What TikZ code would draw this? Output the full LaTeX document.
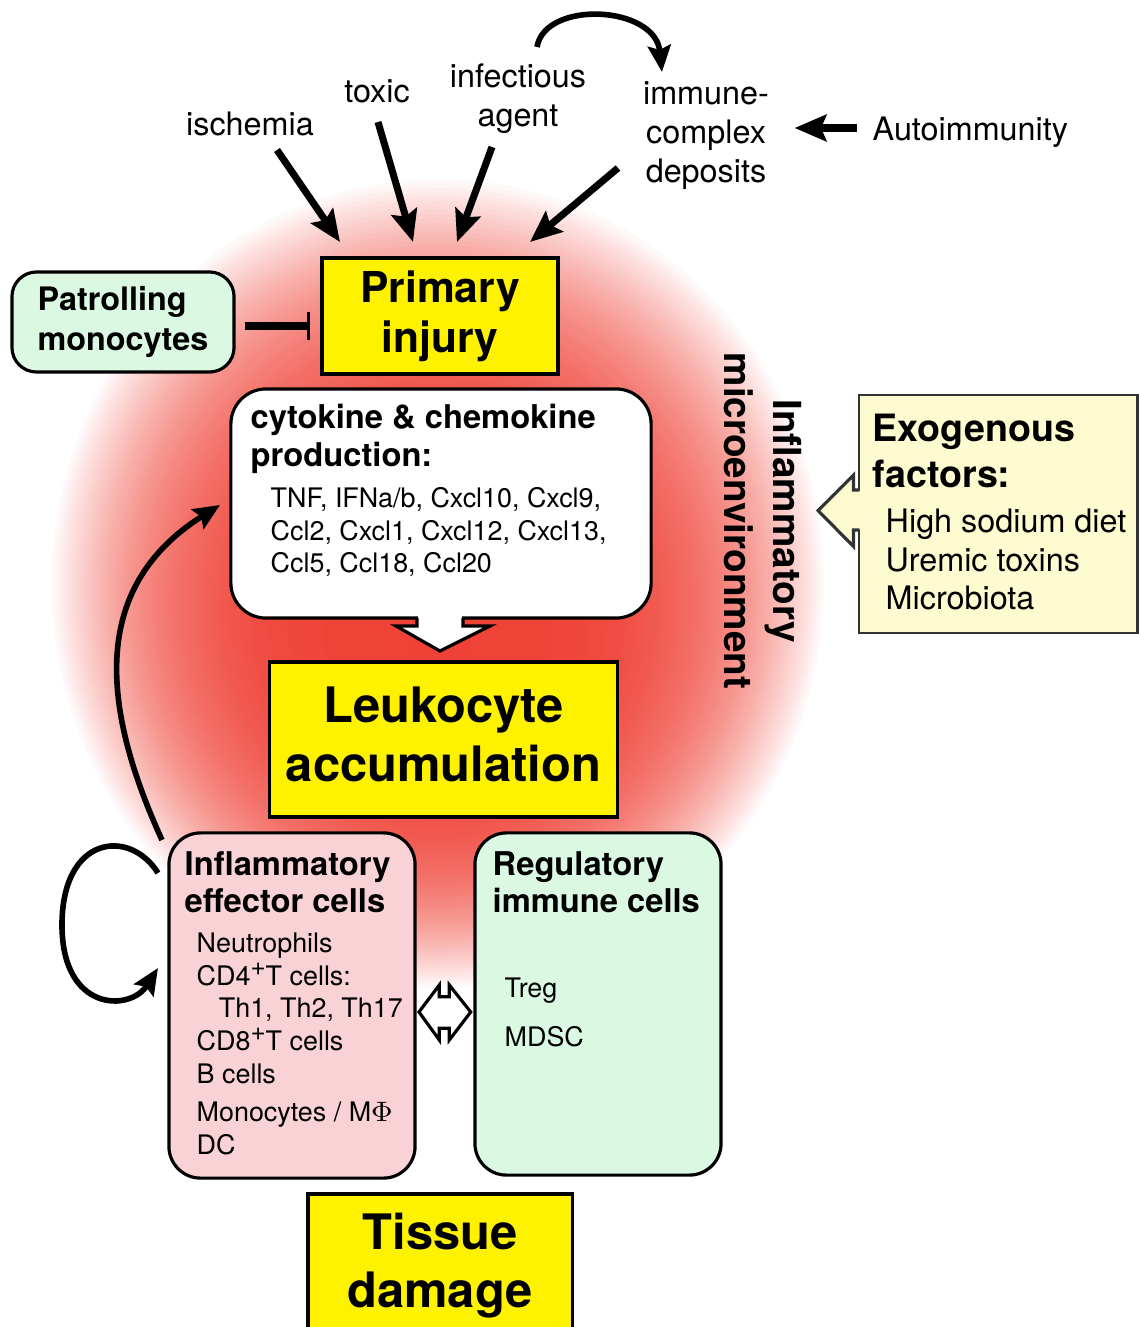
\documentclass[tikz,border=0pt]{standalone}
\usepackage{fontspec}
\setmainfont{TeX Gyre Heros}
\usetikzlibrary{arrows.meta}

\definecolor{injuryyellow}{HTML}{FFF200}
\definecolor{calmgreen}{HTML}{DBF8E3}
\definecolor{effectorpink}{HTML}{F8D2D4}
\definecolor{exoyellow}{HTML}{FEFBD0}
\definecolor{glowred}{HTML}{EF4136}

\newcommand{\plussup}{\raisebox{0.36em}{\fontsize{7.4}{7}\selectfont +}}

\tikzset{
  injurybox/.style={draw=black, fill=injuryyellow, line width=0.9pt, inner sep=0pt, align=center,
    font=\fontsize{12.1}{14.2}\selectfont\bfseries},
  leukobox/.style={injurybox, font=\fontsize{13.9}{16.5}\selectfont\bfseries},
  cellbox/.style={draw=black, line width=0.9pt, rounded corners=9pt, inner sep=0pt},
  titletext/.style={anchor=north west, inner sep=0pt, align=left, font=\fontsize{9.3}{10.6}\selectfont\bfseries},
  listtext/.style={anchor=north west, inner sep=0pt, align=left, font=\fontsize{7.65}{9.3}\selectfont},
  causetext/.style={inner sep=0pt, align=center, font=\fontsize{9.2}{11.1}\selectfont},
  hitarrow/.style={->, line width=2pt},
  curvearrow/.style={->, line width=1.6pt, >={Stealth[length=7.5pt,width=6.5pt,inset=1.2pt]}},
  inhibit/.style={-{Bar[width=8pt,line width=0.9pt]}, line width=2pt},
  blockarrow/.style={draw=black, line width=0.9pt, line join=miter}
}

\begin{document}
\begin{tikzpicture}
        [x=0.01cm, y=-0.01cm, >={Stealth[length=9pt,width=7.5pt,inset=1.5pt]}]
        \useasboundingbox (0,0) rectangle (1138,1327);

        \foreach \k in {0,...,99} {
            \pgfmathsetmacro{\f}{\k/99}
            \pgfmathtruncatemacro{\pct}{100*(1-(1-\f)^3.2)}
            \pgfmathsetmacro{\rx}{390*(1-0.92*\f)}
            \pgfmathsetmacro{\ry}{408*(1-0.92*\f)}
            \pgfmathsetmacro{\cy}{583+57*\f}
            \fill[glowred!\pct!white] (438,\cy) ellipse [x radius=\rx, y radius=\ry];
        }

        \node[causetext, anchor=base] (ischemia) at (250,135) {ischemia};
        \node[causetext, anchor=base] (toxic) at (377,102) {toxic};
        \node[causetext, anchor=north] (infectious) at (518,63.5) {infectious\\agent};
        \node[causetext, anchor=north] (immune) at (706,80.5) {immune-\\complex\\deposits};
        \node[causetext, anchor=base west] (autoimm) at (872,140) {Autoimmunity};

        \node[injurybox, minimum width=2.36cm, minimum height=1.16cm] (primary) at (440,316) {Primary\\injury};
        \node[cellbox, fill=calmgreen, minimum width=2.22cm, minimum height=1cm, rounded corners=7pt,
            align=left, font=\fontsize{9.2}{11.2}\selectfont\bfseries] (patrol) at (123,322) {Patrolling\\monocytes};

        \node[cellbox, fill=white, minimum width=4.2cm, minimum height=2.29cm, rounded corners=10pt] (cytokine) at (441,503.5) {};
        \node[titletext, font=\fontsize{9.3}{11}\selectfont\bfseries] (cytotitle) at (250,403) {cytokine \& chemokine\\production:};
        \node[listtext] (cytolist) at (270,486.5) {TNF, IFNa/b, Cxcl10, Cxcl9,\\Ccl2, Cxcl1, Cxcl12, Cxcl13,\\Ccl5, Ccl18, Ccl20};

        \node[leukobox, minimum width=3.47cm, minimum height=1.55cm] (leuko) at (443.5,739.5) {Leukocyte\\accumulation\vphantom{g}};

        \node[cellbox, fill=effectorpink, minimum width=2.46cm, minimum height=3.45cm] (effector) at (292,1005.5) {};
        \node[titletext] (efftitle) at (184,851) {Inflammatory\\effector cells};
        \node[listtext] (efflist) at (196,932) {Neutrophils\\CD4\plussup T cells:\\\hspace*{6.3pt}Th1, Th2, Th17\\CD8\plussup T cells\\B cells\\[1.6pt]Monocytes / M$\Phi$\\DC};

        \node[cellbox, fill=calmgreen, minimum width=2.46cm, minimum height=3.42cm] (regulatory) at (598,1004) {};
        \node[titletext] (regtitle) at (492,851) {Regulatory\\immune cells};
        \node[listtext, font=\fontsize{7.65}{13.7}\selectfont] (reglist) at (504,977.5) {Treg\\MDSC};

        \node[injurybox, leukobox, minimum width=2.64cm, minimum height=1.44cm] (tissue) at (440,1266) {Tissue\\damage};

        \node[draw=black!80, line width=0.8pt, fill=exoyellow, minimum width=2.78cm, minimum height=2.38cm] (exo) at (998,514) {};
        \node[titletext, font=\fontsize{10.7}{13.3}\selectfont\bfseries] (exotitle) at (872,413) {Exogenous\\factors:};
        \node[listtext, font=\fontsize{9.2}{10.9}\selectfont] (exolist) at (885,508.5) {High sodium diet\\Uremic toxins\\Microbiota};

        \node[rotate=-90, align=center, inner sep=0pt, font=\fontsize{11}{14}\selectfont\bfseries] (microenv) at (763,521) {Inflammatory\\microenvironment};

        \coordinate (ischemia-out) at (277,150);
        \coordinate (ischemia-in) at (340,242);
        \coordinate (toxic-out) at (378,122);
        \coordinate (toxic-in) at (413,242);
        \coordinate (infectious-out) at (492,147);
        \coordinate (infectious-in) at (457,242);
        \coordinate (immune-out) at (618,168);
        \coordinate (immune-in) at (530,242);
        \coordinate (autorow) at (0,128);
        \coordinate (inhrow) at (0,326);

        \draw[hitarrow] (ischemia-out) -- (ischemia-in);
        \draw[hitarrow] (toxic-out) -- (toxic-in);
        \draw[hitarrow] (infectious-out) -- (infectious-in);
        \draw[hitarrow] (immune-out) -- (immune-in);
        \draw[hitarrow, shorten <=0.15cm, shorten >=0.25cm] (autoimm.west |- autorow) -- (immune.east |- autorow);

        \coordinate (loop-out) at (537,47);
        \coordinate (loop-in) at (662,72);
        \draw[curvearrow] (loop-out) .. controls (545,0) and (655,5) .. (loop-in);

        \draw[inhibit, shorten <=0.09cm, shorten >=0.1cm] (patrol.east |- inhrow) -- (primary.west |- inhrow);

        \coordinate (feedback-out) at (162,840);
        \coordinate (feedback-in) at (220,505);
        \draw[curvearrow] (feedback-out) .. controls (105,715) and (85,590) .. (feedback-in);

        \coordinate (self-out) at (158,873);
        \coordinate (self-in) at (158,968);
        \draw[curvearrow] (self-out) .. controls (130,828) and (62,835) .. (62,925)
            .. controls (62,1012) and (130,1012) .. (self-in);

        \fill[white] (418,613) rectangle (462,621);
        \draw[blockarrow, fill=white] (417,618) -- (417,626) -- (396,626) -- (440,651) -- (490,626) -- (463,626) -- (463,618);

        \fill[exoyellow] (857,491) rectangle (863,529);
        \draw[blockarrow, fill=exoyellow, draw=black!80] (859.3,490) -- (853.5,490) -- (853.5,475) -- (818,510.5) -- (853.5,546.5) -- (853.5,530) -- (859.3,530);

        \draw[blockarrow, fill=white] (419,1012) -- (439.3,985) -- (439.3,996.7) -- (449.3,996.7) -- (449.3,985) -- (470.7,1012)
            -- (449.3,1040) -- (449.3,1028.3) -- (439.3,1028.3) -- (439.3,1040) -- cycle;
    \end{tikzpicture}
\end{document}
